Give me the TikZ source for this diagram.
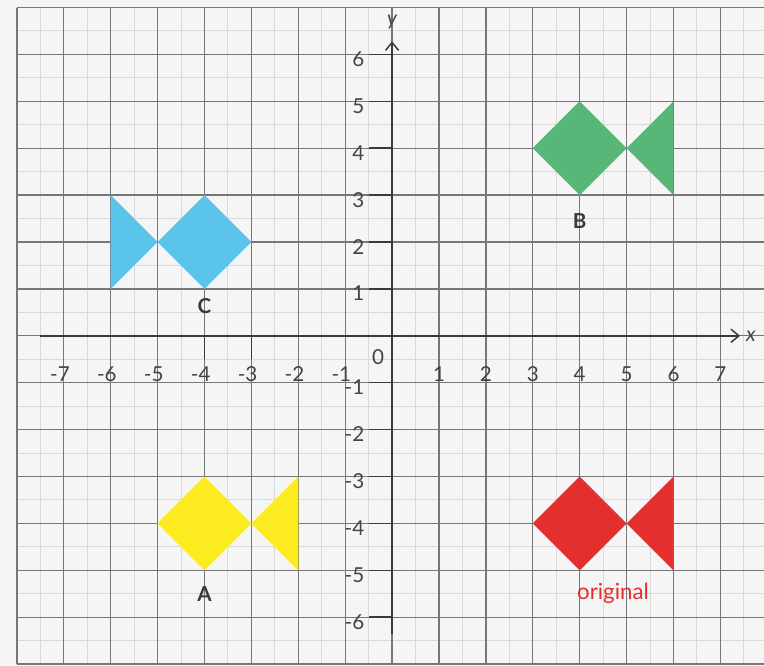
\documentclass[tikz,border=0pt]{standalone}
\usepackage{fontspec}
\setmainfont{Lato}
\usetikzlibrary{arrows.meta,positioning}
\definecolor{paper}{HTML}{F5F5F5}
\definecolor{minorgray}{HTML}{D9D9D9}
\definecolor{majorgray}{HTML}{777777}
\definecolor{axisgray}{HTML}{3A3A3A}
\definecolor{numgray}{HTML}{444444}
\definecolor{fishred}{HTML}{E52E2E}
\definecolor{fishgreen}{HTML}{58B679}
\definecolor{fishyellow}{HTML}{FCEC1F}
\definecolor{fishblue}{HTML}{5BC4EA}

\begin{document}
\begin{tikzpicture}
\tikzset{
    %Define standard arrow tip
    >={Straight Barb[length=1.7mm,width=2.8mm]},
    % grid lines
    minorline/.style={draw=minorgray, line width=0.6pt},
    majorline/.style={draw=majorgray, line width=0.8pt},
    % axes and ticks
    axisline/.style={draw=axisgray, line width=0.9pt, ->},
    tickmark/.style={draw=axisgray, line width=0.9pt},
    % labels
    numlabel/.style={text=numgray, inner sep=0pt,
           font=\fontsize{12.5}{14}\selectfont},
    shapelabel/.style={text=axisgray, inner sep=0pt,
           font=\fontsize{12.5}{14}\selectfont\bfseries},
}
 \useasboundingbox[fill=paper] (-8.36,-7.04) rectangle (7.93,7.16);
 %grid
 \draw[minorline] (-8,-7) grid[step=0.5] (7.93,7);
 \draw[majorline] (-8,-7) grid[step=1] (7.93,7);

 %axes
 \coordinate (xstart) at (-7.5,0);
 \coordinate (xend) at (7.42,0);
 \coordinate (ystart) at (0,-6.35);
 \coordinate (yend) at (0,6.28);
 \draw[axisline] (xstart) -- (xend);
 \draw[axisline] (ystart) -- (yend);
 \node[numlabel, font=\fontsize{12.5}{14}\selectfont\itshape, right=0.12cm of xend] (xname) {x};
 \node[numlabel, font=\fontsize{12.5}{14}\selectfont\itshape] (yname) at (0,6.68) {y};
 \node[numlabel] (origin) at (-0.3,-0.45) {0};

 %ticks and numbers
 \foreach \n in {3,4}
   \draw[tickmark] (-\n,0) -- (-\n,-0.5);
 \foreach \n in {1,...,7} {
   \node[numlabel] (xpos\n) at (\n,-0.82) {\n};
   \node[numlabel] (xneg\n) at (-\n,-0.82) {\llap{-}\n};
 }
 \foreach \n in {1,...,6} {
   \draw[tickmark] (0,\n) -- (-0.5,\n);
   \draw[tickmark] (0,-\n) -- (-0.5,-\n);
   \node[numlabel] (ypos\n) at (-0.72,\n-0.1) {\n};
   \node[numlabel] (yneg\n) at (-0.72,-\n-0.1) {\llap{-}\n};
 }

 %shapes
 % original
 \fill[fishred] (3,-4) -- (4,-3) -- (5,-4) -- (4,-5) -- cycle;
 \fill[fishred] (5,-4) -- (6,-3) -- (6,-5) -- cycle;
 % B
 \fill[fishgreen] (3,4) -- (4,5) -- (5,4) -- (4,3) -- cycle;
 \fill[fishgreen] (5,4) -- (6,5) -- (6,3) -- cycle;
 % A
 \fill[fishyellow] (-5,-4) -- (-4,-3) -- (-3,-4) -- (-4,-5) -- cycle;
 \fill[fishyellow] (-3,-4) -- (-2,-3) -- (-2,-5) -- cycle;
 % C
 \fill[fishblue] (-5,2) -- (-4,3) -- (-3,2) -- (-4,1) -- cycle;
 \fill[fishblue] (-5,2) -- (-6,3) -- (-6,1) -- cycle;

 %shape names
 \node[shapelabel] (nameB) at (4,2.44) {B};
 \node[shapelabel] (nameC) at (-4,0.63) {C};
 \node[shapelabel] (nameA) at (-4,-5.5) {A};
 \node[text=fishred, inner sep=0pt, font=\fontsize{13.5}{15}\selectfont]
   (nameorig) at (4.71,-5.5) {original};
\end{tikzpicture}
\end{document}
